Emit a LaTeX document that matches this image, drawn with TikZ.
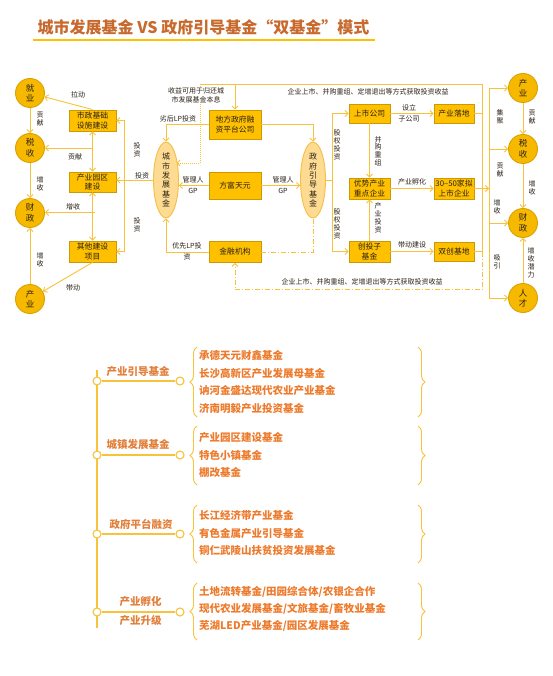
\documentclass[tikz,border=0pt]{standalone}
\usepackage{fontspec}
\setmainfont{Noto Sans CJK SC}
\usetikzlibrary{arrows.meta,calc,shapes.geometric,decorations.pathreplacing}
\definecolor{boxfill}{HTML}{FFC000}
\definecolor{boxline}{HTML}{C99A06}
\definecolor{circfill}{HTML}{F6B900}
\definecolor{circline}{HTML}{D9A200}
\definecolor{ellfill}{HTML}{FDDB93}
\definecolor{ellline}{HTML}{F5BE45}
\definecolor{lncol}{HTML}{F8C23A}
\definecolor{txt}{HTML}{2B2116}
\definecolor{titlecol}{HTML}{C8692D}
\definecolor{itemcol}{HTML}{EE7A2C}
\definecolor{branchcol}{HTML}{E27F3A}
\begin{document}
\begin{tikzpicture}[x=1pt,y=-1pt,
  box/.style={rectangle, fill=boxfill, draw=boxline, line width=0.9pt, align=center, inner sep=0pt, font=\fontsize{7.8}{9.5}\selectfont, text=txt},
  circ/.style={circle, fill=circfill, draw=circline, line width=0.9pt, minimum size=29pt, inner sep=0pt, align=center, font=\fontsize{8.5}{10.5}\selectfont, text=txt},
  ell/.style={ellipse, fill=ellfill, draw=ellline, line width=0.9pt, minimum width=25pt, minimum height=62pt, inner sep=0pt, align=center, font=\fontsize{8}{9.3}\selectfont, text=txt},
  ln/.style={draw=lncol, line width=0.9pt},
  conn/.style={ln, -{Straight Barb[length=3pt,width=6pt]}},
  dconn/.style={ln, {Straight Barb[length=3pt,width=6pt]}-{Straight Barb[length=3pt,width=6pt]}},
  dd/.style={dash pattern=on 5pt off 2pt on 1pt off 2pt},
  dots/.style={dash pattern=on 0.8pt off 1.2pt},
  lbl/.style={font=\fontsize{7}{8.5}\selectfont, text=txt, inner sep=0pt, align=center},
  vl/.style={font=\fontsize{7}{7.8}\selectfont, text=txt, inner sep=0pt, align=center},
  sm/.style={circle, draw=lncol, fill=white, line width=1.1pt, minimum size=8pt, inner sep=0pt},
  brc/.style={draw=lncol, line width=0.9pt, decorate, decoration={brace, amplitude=7pt}},
  branch/.style={font=\fontsize{10.5}{12}\selectfont\bfseries, text=branchcol, inner sep=0pt},
  items/.style={font=\fontsize{10.5}{17.4}\selectfont\bfseries, text=itemcol, inner sep=0pt, align=left, anchor=west}
]
\fill[white] (0,0) rectangle (552,676);
\useasboundingbox (0,0) rectangle (552,676);

% title
\node[font=\fontsize{16}{18}\selectfont\bfseries, text=titlecol, inner sep=0pt] (title) at (203.5,27) {城市发展基金 VS 政府引导基金“双基金”模式};
\draw[draw=boxfill, line width=2pt] (33,40) -- (375,40);

% ---------- left circles ----------
\node[circ] (J)  at (30,93)  {就\\业};
\node[circ] (S1) at (30,148) {税\\收};
\node[circ] (C1) at (30,213) {财\\政};
\node[circ] (P1) at (30,299) {产\\业};

% left boxes
\node[box, minimum width=47pt, minimum height=21pt] (B1) at (92.5,120.5) {市政基础\\设施建设};
\node[box, minimum width=47pt, minimum height=20pt] (B2) at (92.5,182) {产业园区\\建设};
\node[box, minimum width=47pt, minimum height=21pt] (B3) at (92.5,251.5) {其他建设\\项目};

% ellipses
\node[ell] (E1) at (166,180) {城\\市\\发\\展\\基\\金};
\node[ell] (E2) at (313,180) {政\\府\\引\\导\\基\\金};

% middle boxes
\node[box, minimum width=52pt, minimum height=29pt] (M1) at (235,124.5) {地方政府融\\资平台公司};
\node[box, minimum width=52pt, minimum height=27pt] (M2) at (235,185.5) {方富天元};
\node[box, minimum width=52pt, minimum height=21pt] (M3) at (235,252) {金融机构};

% right boxes
\node[box, minimum width=41pt, minimum height=19pt] (R1) at (369.5,113.5) {上市公司};
\node[box, minimum width=40pt, minimum height=19pt] (R2) at (454,113.5) {产业落地};
\node[box, minimum width=41pt, minimum height=21pt] (R3) at (369.5,188.5) {优势产业\\重点企业};
\node[box, minimum width=40pt, minimum height=21pt] (R4) at (454,188.5) {30–50家拟\\上市企业};
\node[box, minimum width=41pt, minimum height=21pt] (R5) at (369.5,251.5) {创投子\\基金};
\node[box, minimum width=40pt, minimum height=19pt] (R6) at (454,251.5) {双创基地};

% right circles
\node[circ] (P2) at (523,88)  {产\\业};
\node[circ] (S2) at (523,149) {税\\收};
\node[circ] (C2) at (523,223) {财\\政};
\node[circ] (T2) at (523,298) {人\\才};

% helper coordinates
\coordinate (lx) at (124,0);
\coordinate (gx) at (332,0);
\coordinate (vx) at (482,0);
\coordinate (cx) at (489,0);
\coordinate (tl) at (200,84);
\coordinate (dp) at (200,163);

% ---------- left connectors ----------
\draw[conn] (B1.north) -- (J);
\node[lbl] at (78,95) {拉动};
\draw[conn] (J) -- (S1);
\node[vl] at (40,119) {贡\\献};
\draw[conn] (S1) -- (C1);
\node[vl] at (40,184) {增\\收};
\draw[conn] (P1) -- (C1);
\node[vl] at (40,260) {增\\收};
\draw[dconn] (B1.south) -- (B2.north);
\draw[dconn] (B2.south) -- (B3.north);
\draw[conn] (B1.south |- S1.east) -- (S1.east);
\node[lbl] at (75,157) {贡献};
\draw[conn] ($(B2.south)+(2.5,20)$) coordinate (ci) -- (ci -| C1.east);
\node[lbl] at (73,207) {增收};
\draw[conn] (B3.south) -- (P1);
\node[lbl] at (73,288) {带动};

% investment bracket
\draw[conn] (E1.west) -- (E1.west -| B2.east);
\draw[ln] (B1.east -| lx) -- (B3.east -| lx);
\draw[conn] (B1.east -| lx) -- (B1.east);
\draw[conn] (B3.east -| lx) -- (B3.east);
\node[vl] at (137,150) {投\\资};
\node[lbl] at (142,176) {投资};
\node[vl] at (137,225) {投\\资};

% ---------- middle connectors ----------
\draw[conn] (M1.west) -| (E1.north);
\node[lbl] at (178,119) {劣后LP投资};
\draw[conn] (M1.east) -| (E2.north);
\draw[conn] (M2.west) -- (M2.west -| E1.east);
\node[lbl] at (193,180) {管理人};
\node[lbl] at (193,191) {GP};
\draw[conn] (M2.east) -- (M2.east -| E2.west);
\node[lbl] at (283,180) {管理人};
\node[lbl] at (283,191) {GP};
\draw[conn] (M3.west) -| (E1.south);
\node[lbl] at (187,245.5) {优先LP投};
\node[lbl] at (187,256.5) {资};
\draw[ln, dd] (M3.east) -| (E2.south);

% top line and dotted return
\draw[ln, dots, -{Straight Barb[length=3pt,width=6pt]}] (tl) -- (dp) -- ($(E1.center)+(10.5,-17)$);
\node[lbl, fill=white, inner sep=1pt] at (196,95.5) {收益可用于归还城\\市发展基金本息};
\draw[ln] (tl) -- (vx |- tl) -- (R6.east -| vx);
\draw[conn] (M1.north |- tl) -- (M1.north);
\node[lbl] at (368,92) {企业上市、并购重组、定增退出等方式获取投资收益};

% bottom dash-dot return
\draw[ln, dd, -{Straight Barb[length=3pt,width=6pt]}] (R6.east -| vx) -- ++(0,38) coordinate (br) -- (br -| M3.south) -- (M3.south);
\node[lbl] at (362,282) {企业上市、并购重组、定增退出等方式获取投资收益};

% ---------- right connectors ----------
\draw[ln] (E2.east) -- (E2.east -| gx);
\draw[ln] (R1.west -| gx) -- (R5.west -| gx);
\draw[conn] (R1.west -| gx) -- (R1.west);
\draw[conn] (R5.west -| gx) -- (R5.west);
\node[vl] at (337,145) {股\\权\\投\\资};
\node[vl] at (337,224) {股\\权\\投\\资};

\draw[conn] (R1) -- (R2);
\node[lbl] at (409,107.5) {设立};
\node[lbl] at (409,118.5) {子公司};
\draw[conn] (R1) -- (R3);
\node[vl] at (378,151) {并\\购\\重\\组};
\draw[conn] (R3) -- (R4);
\node[lbl] at (412,182) {产业孵化};
\draw[conn] (R5) -- (R3);
\node[vl] at (378,218) {产\\业\\投\\资};
\draw[conn] (R5) -- (R6);
\node[lbl] at (412,245) {带动建设};

\draw[ln] (R2.east) -- (R2.east -| vx);
\draw[ln] (R6.east) -- (R6.east -| vx);
\draw[conn] (R4.east) -- (R4.east -| cx);
\draw[ln] (P2.west -| cx) -- (T2.west -| cx);
\draw[conn] (P2.west -| cx) -- (P2.west);
\draw[conn] (S2.west -| cx) -- (S2.west);
\draw[conn] (C2.west -| cx) -- (C2.west);
\draw[conn] (T2.west -| cx) -- (T2.west);
\node[vl] at (500,117) {集\\聚};
\node[vl] at (500,170) {贡\\献};
\node[vl] at (497,207) {增\\收};
\node[vl] at (497,262) {吸\\引};

\draw[conn] (P2) -- (S2);
\node[vl] at (532,117) {贡\\献};
\draw[conn] (S2) -- (C2);
\node[vl] at (532,188) {增\\收};
\draw[conn] (T2) -- (C2);
\node[vl] at (531,263) {增\\收\\潜\\力};

% ---------- bottom tree ----------
\coordinate (tt) at (97,370);
\coordinate (tb) at (97,628);
\draw[ln, line width=1.1pt] (tt) -- (tb);
\foreach \i/\y in {1/381, 2/455, 3/534, 4/612} {
  \node[sm] (a\i) at (97,\y) {};
  \node[sm] (b\i) at (180,\y) {};
  \draw[ln, line width=1.1pt] (a\i) -- (b\i);
}
\node[branch] (k1) at (138,372) {产业引导基金};
\node[branch] (k2) at (138,444) {城镇发展基金};
\node[branch] (k3) at (141,524) {政府平台融资};
\node[branch] (k4a) at (140.5,602) {产业孵化};
\node[branch] (k4b) at (140.5,621) {产业升级};

% braces
\draw[brc] (197,417) -- (197,347);
\draw[brc] (418,347) -- (418,417);
\draw[brc] (197,485) -- (197,426);
\draw[brc] (418,426) -- (418,485);
\draw[brc] (197,563) -- (197,505);
\draw[brc] (418,505) -- (418,563);
\draw[brc] (197,640) -- (197,583);
\draw[brc] (418,583) -- (418,640);

\node[items] (g1) at (199,382) {承德天元财鑫基金\\长沙高新区产业发展母基金\\讷河金盛达现代农业产业基金\\济南明毅产业投资基金};
\node[items] (g2) at (199,455) {产业园区建设基金\\特色小镇基金\\棚改基金};
\node[items] (g3) at (199,533) {长江经济带产业基金\\有色金属产业引导基金\\铜仁武陵山扶贫投资发展基金};
\node[items] (g4) at (199,609) {土地流转基金/田园综合体/农银企合作\\现代农业发展基金/文旅基金/畜牧业基金\\芜湖LED产业基金/园区发展基金};
\end{tikzpicture}
\end{document}
